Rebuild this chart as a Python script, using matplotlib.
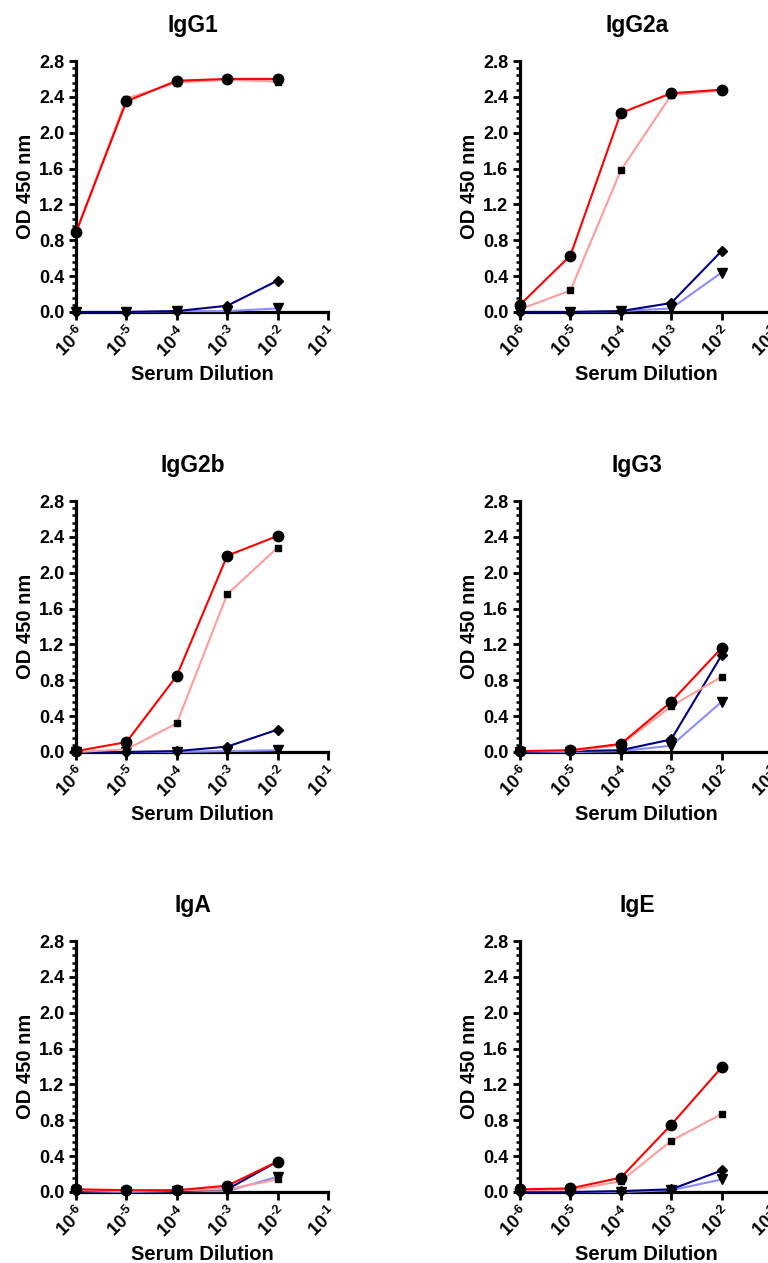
""" Serum antibody ELISA titration curves, one panel per isotype. """

import matplotlib
matplotlib.use("Agg")
import matplotlib.pyplot as plt
from matplotlib.ticker import AutoMinorLocator, FixedLocator, FixedFormatter, NullLocator

plt.rcParams['font.family'] = ['Liberation Sans', 'DejaVu Sans']
plt.rcParams['font.weight'] = 'bold'
plt.rcParams['mathtext.fontset'] = 'custom'
plt.rcParams['mathtext.rm'] = 'Liberation Sans:bold'
plt.rcParams['mathtext.bf'] = 'Liberation Sans:bold'

dilutions = [1e-6, 1e-5, 1e-4, 1e-3, 1e-2]
x_ticks = [1e-6, 1e-5, 1e-4, 1e-3, 1e-2, 1e-1]
x_tick_labels = [r'$\mathbf{10^{\text{-}6}}$', r'$\mathbf{10^{\text{-}5}}$', r'$\mathbf{10^{\text{-}4}}$',
                 r'$\mathbf{10^{\text{-}3}}$', r'$\mathbf{10^{\text{-}2}}$', r'$\mathbf{10^{\text{-}1}}$']
y_ticks = [0.0, 0.4, 0.8, 1.2, 1.6, 2.0, 2.4, 2.8]

panel_titles = ['IgG1', 'IgG2a', 'IgG2b', 'IgG3', 'IgA', 'IgE']

# OD values per series, one list per panel (same order as panel_titles)
red_circle = [
    [0.89, 2.35, 2.58, 2.60, 2.60],
    [0.08, 0.63, 2.22, 2.44, 2.48],
    [0.01, 0.11, 0.85, 2.19, 2.41],
    [0.01, 0.02, 0.09, 0.56, 1.16],
    [0.03, 0.02, 0.02, 0.07, 0.34],
    [0.03, 0.04, 0.16, 0.75, 1.39],
]
pink_square = [
    [0.88, 2.38, 2.56, 2.59, 2.57],
    [0.03, 0.24, 1.58, 2.42, 2.47],
    [0.00, 0.03, 0.32, 1.76, 2.28],
    [0.01, 0.01, 0.08, 0.51, 0.84],
    [0.02, 0.01, 0.02, 0.03, 0.14],
    [0.02, 0.02, 0.12, 0.57, 0.87],
]
navy_diamond = [
    [0.00, 0.00, 0.01, 0.07, 0.35],
    [0.00, 0.00, 0.01, 0.10, 0.68],
    [0.00, 0.00, 0.01, 0.06, 0.25],
    [0.00, 0.01, 0.02, 0.14, 1.08],
    [0.01, 0.01, 0.01, 0.03, 0.34],
    [0.00, 0.00, 0.01, 0.03, 0.24],
]
blue_triangle = [
    [0.00, 0.00, 0.01, 0.01, 0.04],
    [0.00, 0.00, 0.01, 0.04, 0.44],
    [0.00, 0.00, 0.00, 0.01, 0.02],
    [0.00, 0.00, 0.01, 0.07, 0.56],
    [0.01, 0.00, 0.01, 0.01, 0.17],
    [0.00, 0.00, 0.00, 0.02, 0.14],
]

W, H = 768, 1263
left_px = [76, 520]
top_px = [61, 501, 941]
ax_w, ax_h = 252, 251


def plot_panel(ax, idx):
    series = [
        (blue_triangle[idx], '#8c8cff', 'v', 7.5),
        (navy_diamond[idx], '#000080', 'D', 5.0),
        (pink_square[idx], '#ff9c9c', 's', 5.0),
        (red_circle[idx], '#ff0000', 'o', 7.5),
    ]
    for values, color, marker, size in series:
        ax.plot(dilutions, values, color=color, linewidth=1.5,
                marker=marker, markersize=size,
                markerfacecolor='black', markeredgecolor='black',
                clip_on=False, zorder=3)

    ax.set_xscale('log')
    ax.set_xlim(1e-6, 1e-1)
    ax.set_ylim(0, 2.8)
    ax.xaxis.set_major_locator(FixedLocator(x_ticks))
    ax.xaxis.set_major_formatter(FixedFormatter(x_tick_labels))
    ax.xaxis.set_minor_locator(NullLocator())
    ax.set_yticks(y_ticks)
    ax.set_yticklabels(['{:.1f}'.format(v) for v in y_ticks])
    ax.yaxis.set_minor_locator(AutoMinorLocator(5))

    for side in ['top', 'right']:
        ax.spines[side].set_visible(False)
    for side in ['left', 'bottom']:
        ax.spines[side].set_linewidth(2.3)

    ax.tick_params(axis='both', which='major', width=2.0, length=5, labelsize=13)
    ax.tick_params(axis='x', which='major', length=6, pad=2)
    ax.tick_params(axis='y', which='minor', width=1.8, length=3)
    for label in ax.get_xticklabels():
        label.set_rotation(45)
        label.set_ha('right')
        label.set_va('top')
        label.set_rotation_mode('anchor')

    ax.set_xlabel('Serum Dilution', fontsize=14.5, fontweight='bold', labelpad=3)
    ax.set_ylabel('OD 450 nm', fontsize=14.5, fontweight='bold', labelpad=3)
    ax.set_title(panel_titles[idx], fontsize=16.5, fontweight='bold',
                 x=117 / ax_w, pad=21)


fig = plt.figure(figsize=(W / 100, H / 100), dpi=100)
for idx in range(len(panel_titles)):
    row, col = divmod(idx, 2)
    rect = [left_px[col] / W, 1 - (top_px[row] + ax_h) / H, ax_w / W, ax_h / H]
    ax = fig.add_axes(rect)
    plot_panel(ax, idx)

fig.savefig('out.png', dpi=100)
